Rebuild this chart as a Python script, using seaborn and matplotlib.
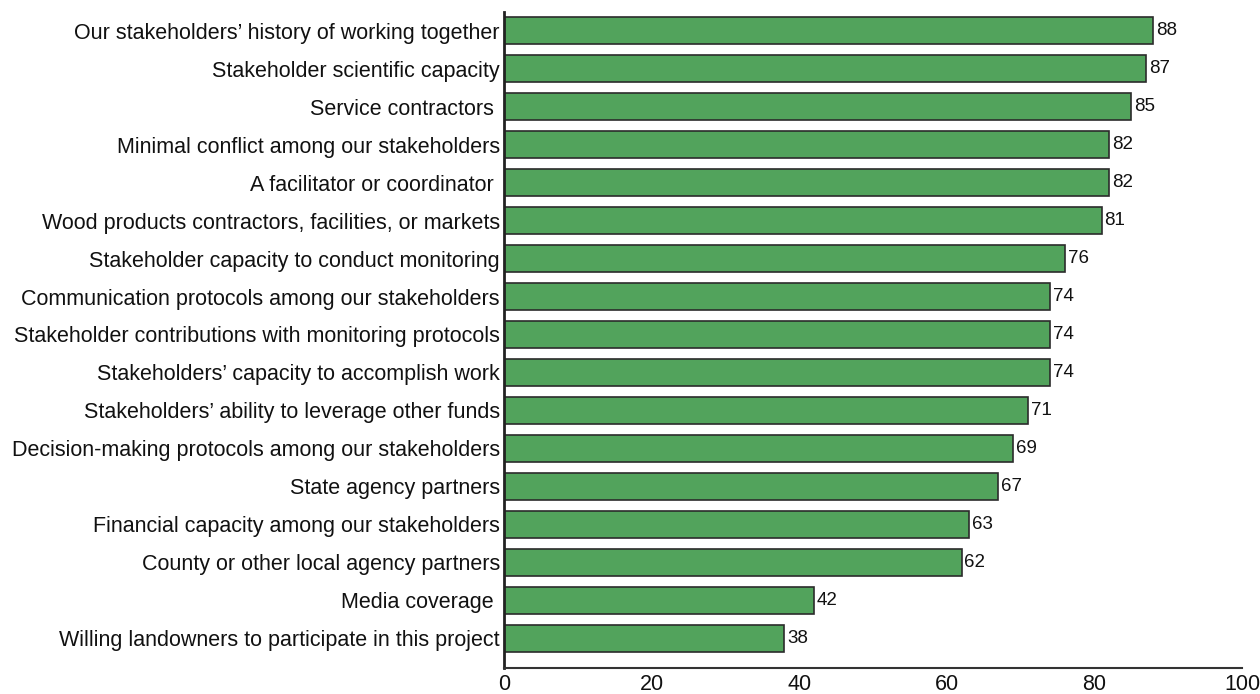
import matplotlib
matplotlib.use("Agg")
import pandas as pd
import seaborn as sns
import matplotlib.pyplot as plt

labels = [
    "Our stakeholders\u2019 history of working together",
    "Stakeholder scientific capacity",
    "Service contractors ",
    "Minimal conflict among our stakeholders",
    "A facilitator or coordinator ",
    "Wood products contractors, facilities, or markets",
    "Stakeholder capacity to conduct monitoring",
    "Communication protocols among our stakeholders",
    "Stakeholder contributions with monitoring protocols",
    "Stakeholders\u2019 capacity to accomplish work",
    "Stakeholders\u2019 ability to leverage other funds",
    "Decision-making protocols among our stakeholders",
    "State agency partners",
    "Financial capacity among our stakeholders",
    "County or other local agency partners",
    "Media coverage ",
    "Willing landowners to participate in this project",
]
values = [88, 87, 85, 82, 82, 81, 76, 74, 74, 74, 71, 69, 67, 63, 62, 42, 38]
ticks = [0, 20, 40, 60, 80, 100]

df = pd.DataFrame({"label": labels, "value": values})

sns.set_style("white")
plt.rcParams["font.family"] = ["Liberation Sans", "DejaVu Sans"]

fig = plt.figure(figsize=(12.6, 6.94), dpi=100)
ax = fig.add_axes([0.4, 0.0375, 0.5857, 0.9452])

sns.barplot(data=df, x="value", y="label", color="#52a35c", saturation=1,
            edgecolor="#2b2b2b", linewidth=1.2, width=0.72, ax=ax)

ax.bar_label(ax.containers[0], padding=2, fontsize=13.5, color="#111111")

ax.set_xlim(0, 100)
ax.set_ylim(16.776, -0.487)
ax.set_xticks(ticks)
ax.set_xticklabels([str(t) for t in ticks], fontsize=15.5, color="#111111")
ax.tick_params(axis="x", direction="in", length=8, width=1.5, color="#333333", pad=4)
ax.tick_params(axis="y", length=0, labelsize=15.5, labelcolor="#111111", pad=3)
ax.set_xlabel("")
ax.set_ylabel("")
for s in ["top", "right"]:
    ax.spines[s].set_visible(False)
ax.spines["left"].set_linewidth(2)
ax.spines["left"].set_color("#222222")
ax.spines["bottom"].set_linewidth(1.5)
ax.spines["bottom"].set_color("#333333")

fig.savefig("out.png", dpi=100)
